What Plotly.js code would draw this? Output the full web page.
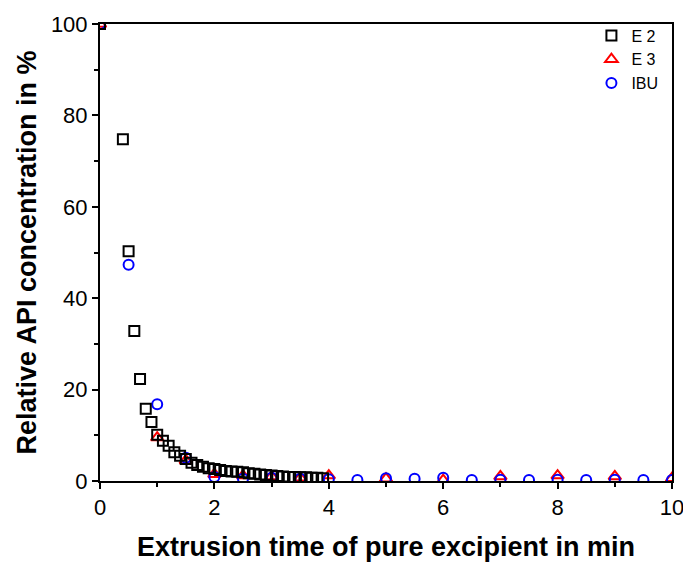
<!DOCTYPE html>
<html>
<head>
<meta charset="utf-8">
<script src="https://cdn.plot.ly/plotly-3.0.1.min.js"></script>
<style>html,body{margin:0;padding:0;background:#fff;}#chart{width:683px;height:562px;}</style>
</head>
<body>
<div id="chart"></div>
<script>
// E2 (black squares)
var e2Time = [0, 0.4, 0.5, 0.6, 0.7, 0.8, 0.9, 1.0, 1.1, 1.2, 1.3, 1.4, 1.5, 1.6, 1.7, 1.8, 1.9, 2.0, 2.1, 2.2, 2.3, 2.4, 2.5, 2.6, 2.7, 2.8, 2.9, 3.0, 3.1, 3.2, 3.3, 3.4, 3.5, 3.6, 3.7, 3.8, 3.9];
var e2Conc = [100, 74.8, 50.3, 32.8, 22.3, 15.8, 12.9, 10.1, 8.8, 7.7, 6.3, 5.5, 4.8, 4.0, 3.5, 3.1, 2.8, 2.6, 2.4, 2.2, 2.1, 2.0, 1.9, 1.7, 1.6, 1.4, 1.3, 1.2, 1.1, 1.0, 0.9, 0.9, 0.8, 0.8, 0.7, 0.7, 0.6];
// E3 (red triangles)
var e3Time = [0, 1.0, 1.5, 2.0, 2.5, 3.0, 3.5, 4.0, 5.0, 6.0, 7.0, 8.0, 9.0, 10.0];
var e3Conc = [100, 9.5, 4.5, 1.5, 1.2, 1.0, 0.7, 1.2, 0.5, 0.2, 1.0, 1.2, 1.0, 0.6];
// IBU (blue circles)
var ibuTime = [0, 0.5, 1.0, 1.5, 2.0, 2.5, 3.0, 3.5, 4.0, 4.5, 5.0, 5.5, 6.0, 6.5, 7.0, 7.5, 8.0, 8.5, 9.0, 9.5, 10.0];
var ibuConc = [100, 47.3, 16.8, 5.1, 0.9, 0.5, 0.7, 0.5, 0.4, 0.2, 0.6, 0.5, 0.7, 0.2, 0.3, 0.2, 0.3, 0.2, 0.3, 0.2, 0.2];

var xTickVals = [0, 2, 4, 6, 8, 10];
var yTickVals = [0, 20, 40, 60, 80, 100];

var font = "Liberation Sans, Arial, sans-serif";

var traces = [
  {x: e3Time, y: e3Conc, name: "E 3", type: "scatter", mode: "markers",
   marker: {symbol: "triangle-up-open", size: 11, color: "#ff0000", line: {width: 2, color: "#ff0000"}}, legendrank: 2},
  {x: ibuTime, y: ibuConc, name: "IBU", type: "scatter", mode: "markers",
   marker: {symbol: "circle-open", size: 10, color: "#0000ff", line: {width: 2, color: "#0000ff"}}, legendrank: 3},
  {x: e2Time, y: e2Conc, name: "E 2", type: "scatter", mode: "markers",
   marker: {symbol: "square-open", size: 10, color: "#000000", line: {width: 2, color: "#000000"}}, legendrank: 1}
];

var layout = {
  width: 683, height: 562,
  margin: {l: 100, r: 11, t: 24, b: 81},
  paper_bgcolor: "#fff", plot_bgcolor: "#fff",
  showlegend: true,
  legend: {x: 0.985, xanchor: "right", y: 1.012, yanchor: "top", bgcolor: "rgba(0,0,0,0)",
    font: {family: font, size: 16, color: "#000"}, tracegroupgap: 0, itemwidth: 30},
  xaxis: {
    range: [0, 10], tickvals: xTickVals, ticks: "outside", ticklen: 6, tickwidth: 2, tickcolor: "#000",
    minor: {dtick: 1, ticklen: 4, tickwidth: 2, tickcolor: "#000", ticks: "outside"},
    showline: true, linewidth: 2, linecolor: "#000", mirror: true, showgrid: false, zeroline: false,
    ticklabeloverflow: "allow",
    tickfont: {family: font, size: 22, color: "#000"},
    title: {text: "<b>Extrusion time of pure excipient in min</b>", font: {family: font, size: 27, color: "#000"}, standoff: 18}
  },
  yaxis: {
    range: [0, 100], tickvals: yTickVals, ticks: "outside", ticklen: 6, tickwidth: 2, tickcolor: "#000",
    minor: {dtick: 10, ticklen: 4, tickwidth: 2, tickcolor: "#000", ticks: "outside"},
    showline: true, linewidth: 2, linecolor: "#000", mirror: true, showgrid: false, zeroline: false,
    tickfont: {family: font, size: 22, color: "#000"},
    title: {text: "<b>Relative API concentration in %</b>", font: {family: font, size: 27, color: "#000"}, standoff: 6}
  }
};

Plotly.newPlot("chart", traces, layout, {displayModeBar: false, staticPlot: true});
</script>
</body>
</html>
